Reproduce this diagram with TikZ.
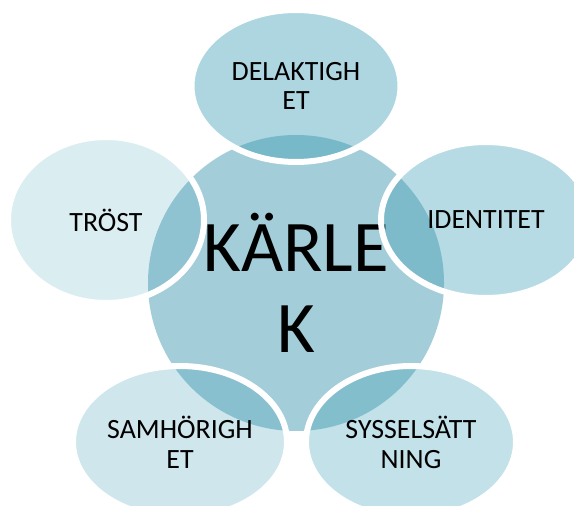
\documentclass[tikz,border=0pt]{standalone}
\usepackage{fontspec}
\setmainfont{Carlito}
\usepackage{tikz}
\usetikzlibrary{shapes.geometric}

\definecolor{petrol}{RGB}{60,157,181}
\definecolor{karlekfill}{RGB}{163,205,217}

\tikzset{
    bubble/.style={ellipse,draw=white,line width=6bp,fill=petrol,text opacity=1,
                   inner sep=0pt,align=center,font=\fontsize{28}{30}\selectfont},
}

\begin{document}
\begin{tikzpicture}[x=1bp,y=-1bp]
                    \useasboundingbox (0,0) rectangle (574,506);
                    \clip (0,0) rectangle (574,506);

                    \node[circle,fill=karlekfill,minimum size=296bp,inner sep=0pt,align=center,
                          font=\fontsize{73}{81}\selectfont] (karlek) at (296,283) {KÄRLE\\K};

                    \node[bubble,fill opacity=0.42,minimum width=209bp,minimum height=152bp] (delaktighet) at (296,86) {DELAKTIGH\\ET};
                    \node[bubble,fill opacity=0.37,minimum width=210bp,minimum height=156bp] (identitet) at (486,220) {IDENTITET};
                    \node[bubble,fill opacity=0.31,minimum width=210bp,minimum height=152bp] (sysselsattning) at (411,442) {SYSSELSÄTT\\NING};
                    \node[bubble,fill opacity=0.25,minimum width=214bp,minimum height=152bp] (samhorighet) at (180,442) {SAMHÖRIGH\\ET};
                    \node[bubble,fill opacity=0.19,minimum width=196bp,minimum height=166bp] (trost) at (106,220) {TRÖST};
                    \end{tikzpicture}
\end{document}
